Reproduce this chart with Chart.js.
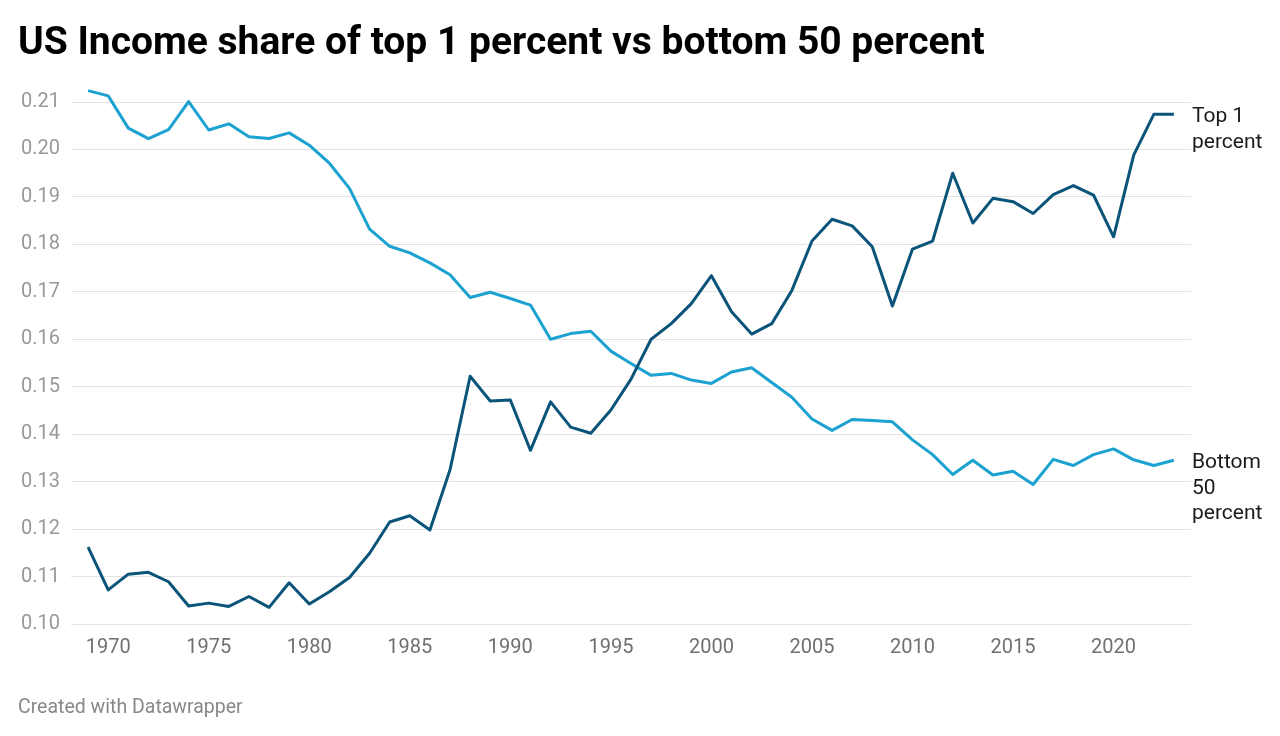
<!DOCTYPE html>
<html>
<head>
<meta charset="utf-8">
<script src="https://cdn.jsdelivr.net/npm/chart.js@4"></script>
<style>
  html, body { margin: 0; padding: 0; background: #fff; }
  #wrap { position: relative; width: 1280px; height: 736px; }
  canvas { display: block; }
</style>
</head>
<body>
<div id="wrap"><canvas id="c" width="1280" height="736"></canvas></div>
<script>
const title = "US Income share of top 1 percent vs bottom 50 percent";
const footer = "Created with Datawrapper";

const years = [1969,1970,1971,1972,1973,1974,1975,1976,1977,1978,1979,1980,1981,1982,1983,1984,1985,1986,1987,1988,1989,1990,1991,1992,1993,1994,1995,1996,1997,1998,1999,2000,2001,2002,2003,2004,2005,2006,2007,2008,2009,2010,2011,2012,2013,2014,2015,2016,2017,2018,2019,2020,2021,2022,2023];

const top1 = [0.1162,0.1072,0.1105,0.1109,0.1089,0.1038,0.1044,0.1037,0.1058,0.1035,0.1087,0.1042,0.1068,0.1098,0.1149,0.1215,0.1228,0.1198,0.1325,0.1522,0.1470,0.1472,0.1366,0.1468,0.1415,0.1402,0.1451,0.1516,0.1600,0.1633,0.1675,0.1734,0.1658,0.1611,0.1633,0.1703,0.1807,0.1853,0.1839,0.1795,0.1670,0.1790,0.1807,0.1950,0.1845,0.1897,0.1890,0.1865,0.1905,0.1924,0.1904,0.1816,0.1988,0.2074,0.2074];

const bottom50 = [0.2124,0.2113,0.2045,0.2023,0.2042,0.2101,0.2041,0.2054,0.2027,0.2023,0.2035,0.2009,0.1971,0.1918,0.1832,0.1796,0.1782,0.1761,0.1736,0.1688,0.1699,0.1686,0.1672,0.1600,0.1612,0.1617,0.1575,0.1549,0.1524,0.1528,0.1514,0.1507,0.1531,0.1540,0.1509,0.1478,0.1432,0.1408,0.1431,0.1429,0.1426,0.1388,0.1357,0.1315,0.1345,0.1314,0.1322,0.1294,0.1347,0.1334,0.1357,0.1369,0.1346,0.1334,0.1345];

const seriesNames = [["Top 1", "percent"], ["Bottom", "50", "percent"]];
const xTicks = [1970,1975,1980,1985,1990,1995,2000,2005,2010,2015,2020];
const yTicks = [0.10,0.11,0.12,0.13,0.14,0.15,0.16,0.17,0.18,0.19,0.20,0.21];

const colTop = "#0b5479";
const colBottom = "#1ba2d0";

const FONT = "Roboto, 'Noto Sans', sans-serif";

const textPlugin = {
  id: "texts",
  afterDatasetsDraw(chart) {
    const ctx = chart.ctx;
    ctx.save();
    ctx.fillStyle = "#1a1a1a";
    ctx.font = "21px " + FONT;
    ctx.textAlign = "left";
    ctx.textBaseline = "middle";
    chart.data.datasets.forEach((ds, i) => {
      const meta = chart.getDatasetMeta(i);
      const last = meta.data[meta.data.length - 1];
      const lines = ds.labelLines;
      lines.forEach((t, k) => {
        ctx.fillText(t, chart.chartArea.right + 1, last.y + 2.5 + k * 25.5);
      });
    });
    ctx.restore();
  },
  afterDraw(chart) {
    const ctx = chart.ctx;
    ctx.save();
    ctx.textAlign = "left";
    ctx.textBaseline = "alphabetic";
    ctx.fillStyle = "#000";
    ctx.font = "bold 39px " + FONT;
    ctx.fillText(title, 18, 54);
    ctx.fillStyle = "#888";
    ctx.font = "19.5px " + FONT;
    ctx.fillText(footer, 18, 713);
    ctx.restore();
  }
};

new Chart(document.getElementById("c"), {
  type: "line",
  data: {
    datasets: [
      {
        label: "Top 1 percent",
        labelLines: seriesNames[0],
        data: years.map((y, i) => ({ x: y, y: top1[i] })),
        borderColor: colTop,
        borderWidth: 3,
        pointRadius: 0,
        tension: 0,
        borderJoinStyle: "round",
        borderCapStyle: "butt"
      },
      {
        label: "Bottom 50 percent",
        labelLines: seriesNames[1],
        data: years.map((y, i) => ({ x: y, y: bottom50[i] })),
        borderColor: colBottom,
        borderWidth: 3,
        pointRadius: 0,
        tension: 0,
        borderJoinStyle: "round",
        borderCapStyle: "butt"
      }
    ]
  },
  options: {
    responsive: false,
    animation: false,
    events: [],
    layout: { padding: { left: 0, top: 78, right: 89, bottom: 0 } },
    plugins: {
      legend: { display: false },
      tooltip: { enabled: false },
      title: { display: false }
    },
    scales: {
      x: {
        type: "linear",
        min: 1968.15,
        max: 2023.85,
        afterBuildTicks(scale) { scale.ticks = xTicks.map(v => ({ value: v })); },
        afterFit(scale) { scale.height = 112; },
        grid: { display: false, drawTicks: false },
        border: { display: false },
        ticks: {
          autoSkip: false,
          maxRotation: 0,
          padding: 12,
          color: "#707070",
          font: { family: FONT, size: 20 },
          callback: v => String(v)
        }
      },
      y: {
        type: "linear",
        min: 0.10,
        max: 0.21506,
        afterBuildTicks(scale) { scale.ticks = yTicks.map(v => ({ value: v })); },
        afterFit(scale) { scale.width = 71; },
        grid: { color: "#e3e3e3", lineWidth: 1, drawTicks: false },
        border: { display: false },
        ticks: {
          padding: 11,
          color: "#999999",
          font: { family: FONT, size: 20 },
          callback: v => v.toFixed(2)
        }
      }
    }
  },
  plugins: [textPlugin]
});
</script>
</body>
</html>
